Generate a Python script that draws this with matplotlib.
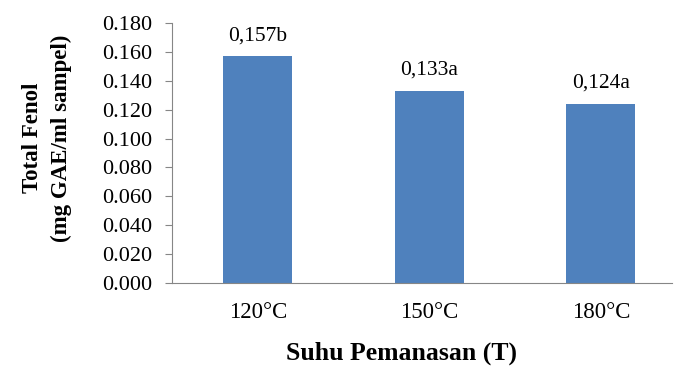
import matplotlib.pyplot as plt

# data
categories = ['120°C', '150°C', '180°C']
values = [0.157, 0.133, 0.124]
labels = ['0,157b', '0,133a', '0,124a']
yticks = [0.000, 0.020, 0.040, 0.060, 0.080, 0.100, 0.120, 0.140, 0.160, 0.180]

plt.rcParams['font.family'] = ['Liberation Serif', 'DejaVu Serif']

fig = plt.figure(figsize=(6.75, 3.69), dpi=100)
W, H = 675, 369
ax = fig.add_axes([172 / W, 1 - 283 / H, 500 / W, 260 / H])

x = list(range(len(categories)))
ax.bar(x, values, width=0.40, color='#4F81BD', zorder=2)

for xi, v, lab in zip(x, values, labels):
    ax.annotate(lab, (xi, v), xytext=(0, 8), textcoords='offset points',
                ha='center', va='bottom', fontsize=15.5)

ax.set_xlim(-0.5, -0.5 + 500 / 171.5)
ax.set_ylim(0, 0.18)
ax.set_yticks(yticks)
ax.set_yticklabels(['%.3f' % t for t in yticks])
ax.set_xticks(x)
ax.set_xticklabels(categories)

for s in ['top', 'right']:
    ax.spines[s].set_visible(False)
for s in ['left', 'bottom']:
    ax.spines[s].set_color('#868686')
ax.tick_params(axis='y', length=5, color='#868686', labelsize=16, pad=9)
ax.tick_params(axis='x', length=0, labelsize=16.5, pad=14)

ax.set_ylabel('Total Fenol\n(mg GAE/ml sampel)', fontsize=16.5, fontweight='bold',
              linespacing=1.5)
ax.yaxis.set_label_coords(-0.2, 0.558)
ax.set_xlabel('Suhu Pemanasan (T)', fontsize=18.5, fontweight='bold')
ax.xaxis.set_label_coords(0.46, -0.225)

fig.savefig('out.png', dpi=100)
